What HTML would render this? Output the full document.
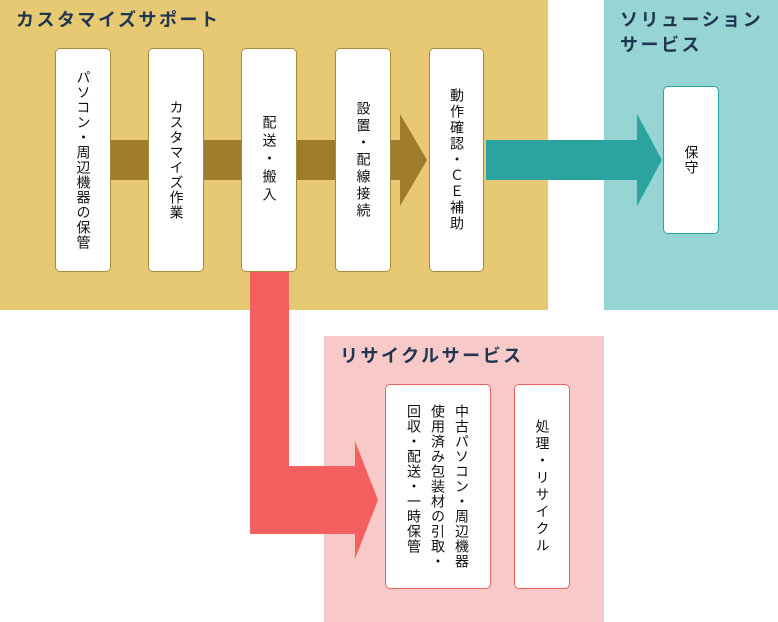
<!DOCTYPE html>
<html><head><meta charset="utf-8"><style>
body{margin:0;width:778px;height:622px;position:relative;overflow:hidden;background:#fff;font-family:"Liberation Sans","Noto Sans CJK JP",sans-serif;}
.a{position:absolute}
.t{position:absolute;font-weight:bold;font-size:18px;letter-spacing:2.5px;color:#1f3550;line-height:25px}
.b{position:absolute;background:#fff;border-radius:5px;box-sizing:border-box;display:flex;align-items:center;justify-content:center}
.v{writing-mode:vertical-rl;text-orientation:upright;font-size:14px;letter-spacing:1px;color:#111;line-height:25px}
.y{border:1px solid #a88a3a}
</style></head><body>
<div class="a" style="left:0;top:0;width:548px;height:310px;background:#e8c973"></div>
<div class="a" style="left:604px;top:0;width:174px;height:310px;background:#97d4d4"></div>
<div class="a" style="left:324px;top:336px;width:280px;height:286px;background:#f7c9c9"></div>
<svg class="a" style="left:0;top:0" width="778" height="622">
<polygon points="110,140 400,140 400,114 427,160 400,206 400,180 110,180" fill="#9e7c2c"/>
<polygon points="486,140 637,140 637,114 662,160 637,206 637,180 486,180" fill="#2ba3a0"/>
<polygon points="250,271 289,271 289,466 355,466 355,441 378,500 355,559 355,534 250,534" fill="#f46060"/>
</svg>
<div class="t" style="left:16px;top:8px">カスタマイズサポート</div>
<div class="t" style="left:620px;top:8px">ソリューション<br>サービス</div>
<div class="t" style="left:340px;top:344px">リサイクルサービス</div>
<div class="b y" style="left:55px;top:48px;width:56px;height:224px"><div class="v">パソコン・周辺機器の保管</div></div>
<div class="b y" style="left:148px;top:48px;width:56px;height:224px"><div class="v">カスタマイズ作業</div></div>
<div class="b y" style="left:241px;top:48px;width:56px;height:224px"><div class="v" style="letter-spacing:4px">配送・搬入</div></div>
<div class="b y" style="left:335px;top:48px;width:56px;height:224px"><div class="v" style="letter-spacing:3px">設置・配線接続</div></div>
<div class="b y" style="left:429px;top:48px;width:55px;height:224px"><div class="v" style="letter-spacing:2px">動作確認・ＣＥ補助</div></div>
<div class="b" style="left:663px;top:86px;width:56px;height:148px;border:1px solid #2ba3a0"><div class="v">保守</div></div>
<div class="b" style="left:385px;top:384px;width:106px;height:205px;border:1px solid #f06060"><div class="v" style="line-height:24px">中古パソコン・周辺機器<br>使用済み包装材の引取・<br>回収・配送・一時保管</div></div>
<div class="b" style="left:514px;top:384px;width:56px;height:205px;border:1px solid #f06060"><div class="v" style="letter-spacing:3px">処理・リサイクル</div></div>
</body></html>
